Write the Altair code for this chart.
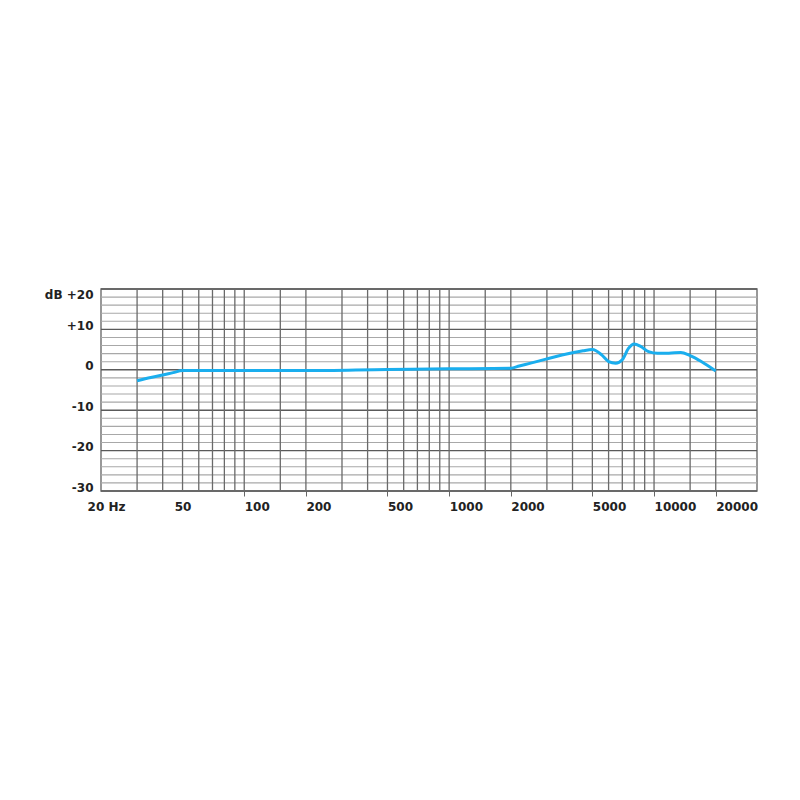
import altair as alt
import pandas as pd

# Frequency response curve
freq_hz = [30, 35, 40, 45, 50, 60, 100, 200, 500, 1000, 2000, 2200, 2500, 3000,
           4000, 4500, 5000, 5550, 6000, 6500, 7000, 7500, 8000, 8600, 9400,
           10400, 11800, 13500, 15000, 17000, 20000]
response_db = [-2.7, -1.9, -1.3, -0.7, -0.2, -0.2, -0.2, -0.2, 0.1, 0.25, 0.4, 0.95,
               1.65, 2.7, 4.2, 4.7, 5.0, 3.7, 2.05, 1.65, 2.5, 5.3, 6.4, 5.8, 4.5,
               4.1, 4.1, 4.3, 3.5, 2.05, -0.3]

# Axis ticks and labels
x_tick_values = [20, 50, 100, 200, 500, 1000, 2000, 5000, 10000, 20000]
x_tick_labels = ["20 Hz", "50", "100", "200", "500", "1000", "2000", "5000", "10000", "20000"]
y_tick_values = [-30, -20, -10, 0, 10, 20]
y_tick_labels = ["-30", "-20", "-10", "0", "+10", "dB +20"]

# Grid lines
freq_grid = [30, 40, 50, 60, 70, 80, 90, 100, 150, 200, 300, 400, 500, 600, 700,
             800, 900, 1000, 1500, 2000, 3000, 4000, 5000, 6000, 7000, 8000,
             9000, 10000, 15000, 20000]
db_grid = [-30, -28, -26, -24, -22, -20, -18, -16, -14, -12, -10, -8, -6, -4, -2,
           0, 2, 4, 6, 8, 10, 12, 14, 16, 18, 20]


def label_expr(values, labels):
    s = "''"
    for v, l in reversed(list(zip(values, labels))):
        s = f"datum.value == {v} ? '{l}' : {s}"
    return s


FONT = "DejaVu Sans"

x_scale = alt.Scale(type="log", domain=[20, 31800], nice=False)
y_scale = alt.Scale(domain=[-30, 20], nice=False)

x_axis = alt.Axis(
    values=x_tick_values,
    labelExpr=label_expr(x_tick_values, x_tick_labels),
    grid=False, domain=False, ticks=True, tickSize=5, tickColor="#666", tickWidth=1,
    tickOpacity={"condition": {"test": "datum.value <= 50", "value": 0}, "value": 1},
    labelAlign={"condition": {"test": "datum.value <= 50", "value": "center"}, "value": "left"},
    labelOffset={"condition": {"test": "datum.value == 20", "value": 5}, "value": 0},
    labelPadding=5, labelFont=FONT, labelFontWeight="bold", labelFontSize=12,
    labelColor="#222", labelBaseline="top", labelFlush=False, labelOverlap=False,
    title=None,
)
y_axis = alt.Axis(
    values=y_tick_values,
    labelExpr=label_expr(y_tick_values, y_tick_labels),
    grid=False, domain=False, ticks=False, labelPadding=8,
    labelBaseline={"condition": {"test": "datum.value == 20", "value": "top"}, "value": "alphabetic"},
    labelFont=FONT, labelFontWeight="bold", labelFontSize=12, labelColor="#222",
    labelFlush=False, labelOverlap=False, title=None,
)

hgrid = alt.Chart(pd.DataFrame({"db": db_grid})).mark_rule().encode(
    y=alt.Y("db:Q", scale=y_scale, axis=y_axis),
    color=alt.condition("datum.db % 10 == 0", alt.value("#5a5a5a"), alt.value("#a8a8a8")),
    strokeWidth=alt.condition("datum.db % 10 == 0", alt.value(1.4), alt.value(1.1)),
)

vgrid = alt.Chart(pd.DataFrame({"freq": freq_grid})).mark_rule(
    color="#6a6a6a", strokeWidth=1.3
).encode(
    x=alt.X("freq:Q", scale=x_scale, axis=x_axis),
)

line = alt.Chart(pd.DataFrame({"freq": freq_hz, "db": response_db})).mark_line(
    color="#1aaeee", strokeWidth=3, interpolate="monotone"
).encode(
    x=alt.X("freq:Q", scale=x_scale, axis=x_axis),
    y=alt.Y("db:Q", scale=y_scale, axis=y_axis),
)

chart = alt.layer(hgrid, vgrid, line).properties(
    width=656, height=202,
    autosize=alt.AutoSizeParams(type="none"),
    padding={"left": 93, "top": 281, "right": 20, "bottom": 40},
    background="white",
).configure_view(stroke="#777", strokeWidth=1.5)

chart.save("out.html", embed_options={"renderer": "svg", "actions": False})
